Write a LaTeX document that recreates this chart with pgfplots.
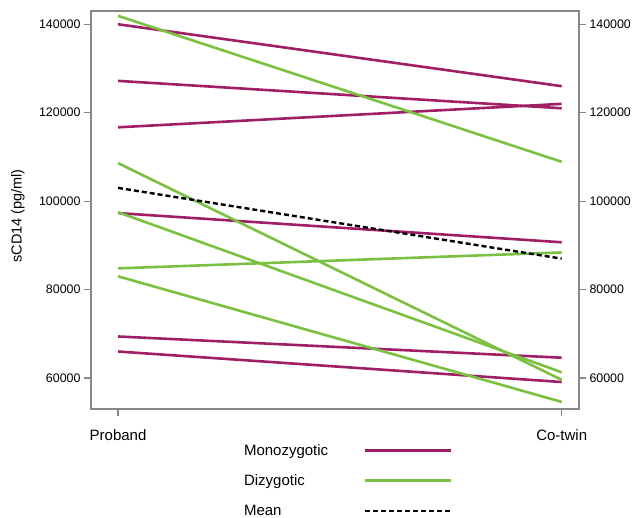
\documentclass[border=0pt]{standalone}
\usepackage{pgfplots}
\pgfplotsset{compat=1.18}
\usepackage{fontspec}
\setmainfont{Liberation Sans}
\definecolor{mono}{RGB}{160,30,100}
\definecolor{dizy}{RGB}{122,193,66}
\definecolor{framegray}{RGB}{135,135,135}

\begin{document}
\begin{tikzpicture}
\pgfplotsset{
  base/.style={
    scale only axis, width=488bp, height=398bp,
    xmin=-0.061, xmax=1.039, ymin=53000, ymax=143000,
    axis line style={framegray, line width=1.5bp},
    tick style={framegray, line width=1.2bp},
    major tick length=7bp, tick align=outside,
    ytick={60000,80000,...,140000}, scaled y ticks=false,
    /pgf/number format/assume math mode=true,
    yticklabel style={/pgf/number format/fixed, /pgf/number format/1000 sep={},
      font=\fontsize{12.4bp}{14bp}\selectfont},
  }
}
\begin{axis}[base,
  xtick={0,1}, xticklabels={Proband,Co-twin}, xtick pos=left,
  xticklabel style={font=\fontsize{15bp}{18bp}\selectfont, yshift=-10bp},
  ytick pos=left,
  ylabel={sCD14 (pg/ml)},
  ylabel style={font=\fontsize{14.5bp}{17bp}\selectfont,
    at={(axis description cs:-0.1496,0.485)}, anchor=center},
  legend cell align=left, legend plot pos=right,
  legend image code/.code={\draw[#1] (0bp,0bp) -- (86bp,0bp);},
  legend style={draw=none, fill=none, at={(0.303,-0.078)}, anchor=north west,
    font=\fontsize{15bp}{18bp}\selectfont, row sep=14bp,
    /tikz/column sep=33bp},
]
% monozygotic pairs
\addplot[mono, line width=2.6bp] coordinates {(0,140000) (1,126000)};
\addlegendentry{Monozygotic}
\addplot[mono, line width=2.6bp, forget plot] coordinates {(0,127200) (1,121000)};
\addplot[mono, line width=2.6bp, forget plot] coordinates {(0,116700) (1,122000)};
\addplot[mono, line width=2.6bp, forget plot] coordinates {(0,97300) (1,90700)};
\addplot[mono, line width=2.6bp, forget plot] coordinates {(0,69400) (1,64600)};
\addplot[mono, line width=2.6bp, forget plot] coordinates {(0,66000) (1,59100)};
% dizygotic pairs
\addplot[dizy, line width=2.6bp] coordinates {(0,141900) (1,108900)};
\addlegendentry{Dizygotic}
\addplot[dizy, line width=2.6bp, forget plot] coordinates {(0,108600) (1,59600)};
\addplot[dizy, line width=2.6bp, forget plot] coordinates {(0,97500) (1,61300)};
\addplot[dizy, line width=2.6bp, forget plot] coordinates {(0,84800) (1,88400)};
\addplot[dizy, line width=2.6bp, forget plot] coordinates {(0,83000) (1,54600)};
% mean
\addplot[black, line width=2.4bp, dash pattern=on 5bp off 3bp] coordinates {(0,103000) (1,87000)};
\addlegendentry{Mean}
\end{axis}
\begin{axis}[base,
  xtick=\empty, ytick pos=right, yticklabel pos=right,
]
\end{axis}
\pgfresetboundingbox
\path[use as bounding box] (-91bp,-109bp) rectangle (541bp,409bp);
\end{tikzpicture}
\end{document}
